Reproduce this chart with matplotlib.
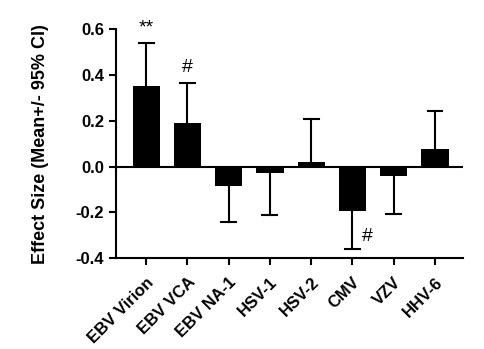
import matplotlib.pyplot as plt
import numpy as np

plt.rcParams['font.family'] = ['Liberation Sans', 'DejaVu Sans']
plt.rcParams['font.weight'] = 'bold'

viruses = ["EBV Virion", "EBV VCA", "EBV NA-1", "HSV-1", "HSV-2", "CMV", "VZV", "HHV-6"]
effect = [0.35, 0.19, -0.085, -0.028, 0.022, -0.194, -0.042, 0.075]
ci_end = [0.54, 0.367, -0.243, -0.213, 0.207, -0.36, -0.207, 0.245]
marks = {0: "**", 1: "#", 5: "#"}

fig = plt.figure(figsize=(4.84, 3.49), dpi=100)
ax = fig.add_axes([0.2397, 0.2607, 0.7169, 0.6553])

x = np.arange(len(viruses))
ax.bar(x, effect, width=0.66, color="black", zorder=2)
for i, (m, e) in enumerate(zip(effect, ci_end)):
    ax.plot([i, i], [m, e], color="black", lw=1.5, zorder=1)
    ax.plot([i - 0.18, i + 0.18], [e, e], color="black", lw=1.5, zorder=1)

ax.axhline(0, color="black", lw=1.5, zorder=3)

for i, s in marks.items():
    e = ci_end[i]
    if e > 0:
        ax.text(i, e + 0.03, s, ha="center", va="bottom", fontsize=14, fontweight="normal")
    else:
        ax.text(i + 0.22, e + 0.055, s, ha="left", va="center", fontsize=14, fontweight="normal")

ax.set_xlim(-0.73, 7.68)
ax.set_ylim(-0.4, 0.6)
ax.set_yticks([-0.4, -0.2, 0.0, 0.2, 0.4, 0.6])
ax.set_yticklabels(["-0.4", "-0.2", "0.0", "0.2", "0.4", "0.6"])
ax.set_xticks(x)
ax.set_xticklabels(viruses, rotation=45, ha="right", rotation_mode="anchor")
ax.tick_params(axis="both", labelsize=12, width=1.5, length=5, direction="out")
ax.tick_params(axis="x", length=5, pad=7)
ax.set_ylabel("Effect Size (Mean+/- 95% CI)", fontsize=13, fontweight="bold", labelpad=19)

for side in ["top", "right"]:
    ax.spines[side].set_visible(False)
for side in ["left", "bottom"]:
    ax.spines[side].set_linewidth(1.5)

fig.savefig("out.png", dpi=100)
